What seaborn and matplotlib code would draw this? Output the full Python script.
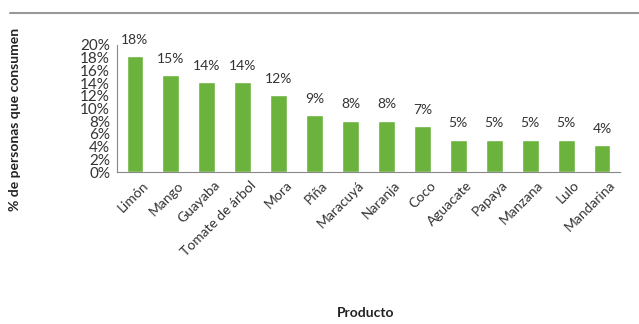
import matplotlib
matplotlib.use("Agg")
import matplotlib.pyplot as plt
import matplotlib.transforms as mtransforms
import seaborn as sns
import pandas as pd
import numpy as np
from matplotlib.lines import Line2D

productos = ["Limón", "Mango", "Guayaba", "Tomate de árbol", "Mora", "Piña",
             "Maracuyá", "Naranja", "Coco", "Aguacate", "Papaya", "Manzana",
             "Lulo", "Mandarina"]
porcentaje = [18.2, 15.3, 14.1, 14.1, 12.1, 9.0, 8.1, 8.1, 7.2, 5.1, 5.1, 5.1, 5.1, 4.3]
etiquetas = ["18%", "15%", "14%", "14%", "12%", "9%", "8%", "8%", "7%",
             "5%", "5%", "5%", "5%", "4%"]
yticks = list(range(0, 21, 2))

df = pd.DataFrame({"Producto": productos, "pct": porcentaje})

sns.set_style("white")
plt.rcParams["font.family"] = ["Lato", "DejaVu Sans"]

fig = plt.figure(figsize=(6.39, 3.24), dpi=100)
ax = fig.add_axes([117 / 639, 1 - 172 / 324, (620 - 117) / 639, (172 - 45) / 324])

sns.barplot(data=df, x="Producto", y="pct", color="#6cb33e", width=0.47,
            saturation=1, ax=ax)

for i, (v, t) in enumerate(zip(porcentaje, etiquetas)):
    ax.text(i, v + 1.6, t, ha="center", va="bottom", fontsize=10, color="#333333")

ax.set_ylim(0, 20)
ax.set_xlim(-0.5, len(productos) - 0.5)
ax.set_yticks(yticks)
ax.set_yticklabels([f"{v}%" for v in yticks], fontsize=11, color="#333333")
ax.set_xticks(range(len(productos)))
ax.set_xticklabels(productos, rotation=45, ha="right", rotation_mode="anchor",
                   fontsize=10, color="#333333")
# small ticks between categories
ax.set_xticks(np.arange(-0.5, len(productos), 1.0), minor=True)
ax.tick_params(axis="x", which="minor", length=3, color="#888888", direction="out")
ax.tick_params(axis="y", length=3, pad=2, color="#888888")
ax.tick_params(axis="x", which="major", length=0, pad=5)

shift = mtransforms.ScaledTranslation(7 / 100, 0, fig.dpi_scale_trans)
for lab in ax.get_xticklabels():
    lab.set_transform(lab.get_transform() + shift)

for s in ["top", "right"]:
    ax.spines[s].set_visible(False)
ax.spines["left"].set_color("#888888")
ax.spines["bottom"].set_color("#888888")

ax.set_xlabel("")
ax.set_ylabel("% de personas que consumen", fontsize=10, fontweight="bold",
              color="#222222")
ax.yaxis.set_label_coords(-0.19, 0.41)

fig.text(366 / 639, 1 - 313 / 324, "Producto", ha="center", va="center",
         fontsize=10, fontweight="bold", color="#222222")

fig.add_artist(Line2D([10 / 639, 1.0], [1 - 13 / 324, 1 - 13 / 324],
                      color="#999999", lw=1.5, transform=fig.transFigure))

fig.savefig("out.png", dpi=100)
